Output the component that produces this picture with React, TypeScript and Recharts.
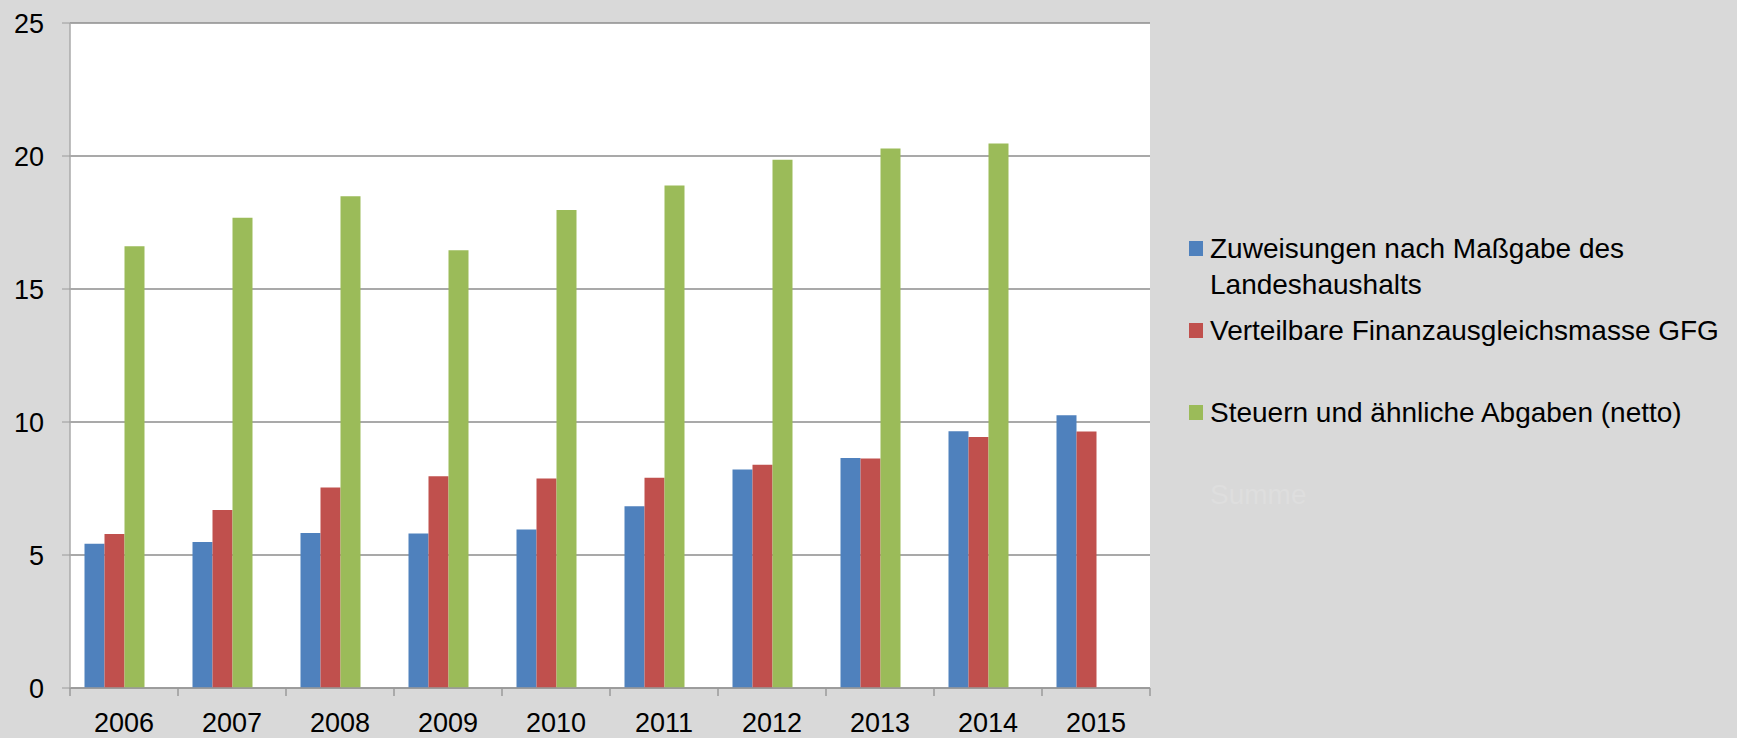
import { BarChart, Bar, XAxis, YAxis, CartesianGrid } from 'recharts'

const years = ['2006', '2007', '2008', '2009', '2010', '2011', '2012', '2013', '2014', '2015']
const zuweisungen = [5.42, 5.49, 5.83, 5.81, 5.96, 6.83, 8.21, 8.65, 9.65, 10.25]
const finanzausgleich = [5.79, 6.69, 7.54, 7.96, 7.88, 7.9, 8.39, 8.63, 9.44, 9.64]
const steuern = [16.61, 17.68, 18.49, 16.46, 17.97, 18.89, 19.86, 20.28, 20.47, null]
// "Summe" is a series in the legend whose bars are not visible
const summe = [null, null, null, null, null, null, null, null, null, null]
const yTicks = [0, 5, 10, 15, 20, 25]

const series = [
  { key: 'zuw', label: 'Zuweisungen nach Maßgabe des Landeshaushalts', color: '#4f81bd' },
  { key: 'fin', label: 'Verteilbare Finanzausgleichsmasse GFG', color: '#c0504d' },
  { key: 'steu', label: 'Steuern und ähnliche Abgaben (netto)', color: '#9bbb59' },
  { key: 'summe', label: 'Summe', color: 'transparent', faint: true },
]

const data = years.map((y, i) => ({
  year: y,
  zuw: zuweisungen[i],
  fin: finanzausgleich[i],
  steu: steuern[i],
  summe: summe[i],
}))

const FONT = '"Liberation Sans", Arial, sans-serif'
const AXIS = '#9a9a9a'

// category ticks sit on the band edges, like Excel
const EdgeTick = (props: any) => {
  const { x, y, payload, index, visibleTicksCount } = props
  const half = payload.offset || 0
  const top = y - 25
  return (
    <g>
      <line x1={x - half} x2={x - half} y1={top} y2={top + 8} stroke={AXIS} strokeWidth={1.5} />
      {index === visibleTicksCount - 1 && (
        <line x1={x + half} x2={x + half} y1={top} y2={top + 8} stroke={AXIS} strokeWidth={1.5} />
      )}
      <text x={x} y={y} dy="0.71em" textAnchor="middle" fontSize={27} fontFamily={FONT} fill="#000">
        {payload.value}
      </text>
    </g>
  )
}

const LegendBox = () => (
  <div style={{
    position: 'absolute', left: 1189, top: 231, width: 540,
    fontFamily: FONT, fontSize: 28, lineHeight: '36px', color: '#000',
  }}>
    {series.map(s => (
      <div key={s.key} style={{ display: 'flex', alignItems: 'flex-start', height: 82 }}>
        <span style={{
          width: 14, height: 15, marginTop: 10, marginRight: 7, flex: 'none',
          background: s.color,
        }} />
        <span style={{ width: 515, color: s.faint ? '#dedede' : '#000' }}>{s.label}</span>
      </div>
    ))}
  </div>
)

export default function App() {
  return (
    <div style={{ position: 'fixed', left: 0, top: 0, width: 1737, height: 738, background: '#d9d9d9' }}>
      <BarChart
        width={1737}
        height={738}
        data={data}
        margin={{ top: 23, right: 587, left: 0, bottom: 0 }}
        barCategoryGap={14.5}
        barGap={0}
      >
        <CartesianGrid vertical={false} fill="#ffffff" stroke="#8c8c8c" strokeWidth={1.3} />
        <XAxis
          dataKey="year"
          height={50}
          axisLine={{ stroke: AXIS, strokeWidth: 1.5 }}
          tickLine={false}
          tickSize={8}
          tickMargin={17}
          tick={<EdgeTick />}
          interval={0}
        />
        <YAxis
          width={70}
          domain={[0, 25]}
          ticks={yTicks}
          interval={0}
          axisLine={{ stroke: '#aaaaaa', strokeWidth: 1.5 }}
          tickLine={{ stroke: AXIS }}
          tickSize={8}
          tickMargin={18}
          tick={{ fontSize: 27, fontFamily: FONT, fill: '#000' }}
        />
        {series.map(s => (
          <Bar key={s.key} dataKey={s.key} name={s.label} fill={s.color} isAnimationActive={false} />
        ))}
      </BarChart>
      <LegendBox />
    </div>
  )
}
